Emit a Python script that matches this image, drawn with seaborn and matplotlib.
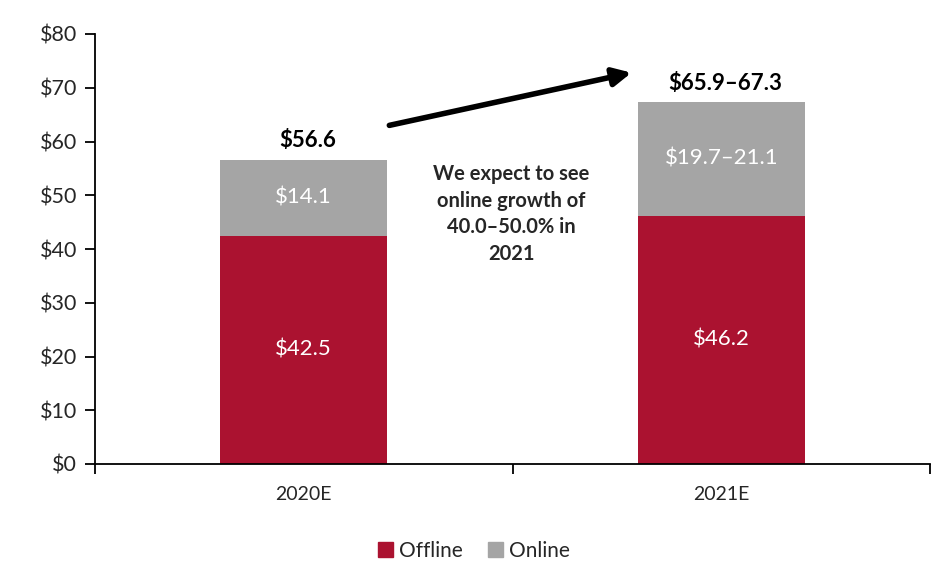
import matplotlib
matplotlib.use("Agg")
import matplotlib.pyplot as plt
import seaborn as sns
import pandas as pd
from matplotlib.patches import Patch

years = ["2020E", "2021E"]
offline = [42.5, 46.2]
online = [14.1, 21.1]
offline_labels = ["$42.5", "$46.2"]
online_labels = ["$14.1", "$19.7–21.1"]
total_labels = ["$56.6", "$65.9–67.3"]
yticks = [0, 10, 20, 30, 40, 50, 60, 70, 80]
note = "We expect to see\nonline growth of\n40.0–50.0% in\n2021"

RED = "#AB1230"
GREY = "#A5A5A5"

sns.set_theme(style="white")
plt.rcParams['font.family'] = ['Lato', 'DejaVu Sans']

fig = plt.figure(figsize=(9.48, 5.81), dpi=100)
ax = fig.add_axes([95/948, 1-464/581, 835/948, 430/581])

df = pd.DataFrame({"year": years, "offline": offline,
                   "total": [a + b for a, b in zip(offline, online)]})
sns.barplot(data=df, x="year", y="total", color=GREY, width=0.4, ax=ax,
            saturation=1, linewidth=0)
sns.barplot(data=df, x="year", y="offline", color=RED, width=0.4, ax=ax,
            saturation=1, linewidth=0)

ax.set_xlim(-0.5, 1.5)
ax.set_ylim(0, 80)
ax.set_yticks(yticks)
ax.set_yticklabels([f"${v}" for v in yticks], fontsize=15.5)
ax.set_xlabel("")
ax.set_ylabel("")
ax.set_xticks([-0.5, 0.5, 1.5], minor=True)
ax.tick_params(axis="x", which="major", length=0, labelsize=14, pad=16, bottom=False)
ax.tick_params(axis="x", which="minor", length=7, width=1.3, color="black",
               direction="out", bottom=True)
ax.tick_params(axis="y", length=7, width=1.3, color="black", direction="out",
               left=True, pad=6)
for s in ["top", "right"]:
    ax.spines[s].set_visible(False)
for s in ["left", "bottom"]:
    ax.spines[s].set_color("black")
    ax.spines[s].set_linewidth(1.3)

for i in range(2):
    ax.text(i, offline[i] / 2, offline_labels[i], ha="center", va="center",
            color="white", fontsize=16)
    ax.text(i, offline[i] + online[i] / 2, online_labels[i], ha="center", va="center",
            color="white", fontsize=16)
    ax.text(i + 0.01, offline[i] + online[i] + 1.6, total_labels[i], ha="center", va="bottom",
            color="black", fontsize=16, fontweight="bold")

ax.text(0.497, 46.5, note, ha="center", va="center", fontsize=14.5,
        fontweight="bold", linespacing=1.4)

ax.annotate("", xy=(0.785, 72.8), xytext=(0.205, 63.0),
            arrowprops=dict(arrowstyle="-|>,head_length=0.9,head_width=0.45",
                            color="black", lw=4, shrinkA=0, shrinkB=0))

handles = [Patch(color=RED, label="Offline"), Patch(color=GREY, label="Online")]
fig.legend(handles=handles, loc="center", bbox_to_anchor=(0.5, 1 - 551/581), ncol=2,
           frameon=False, fontsize=15, handlelength=0.7, handleheight=0.7,
           handletextpad=0.3, columnspacing=1.2)

fig.savefig("out.png", dpi=100)
